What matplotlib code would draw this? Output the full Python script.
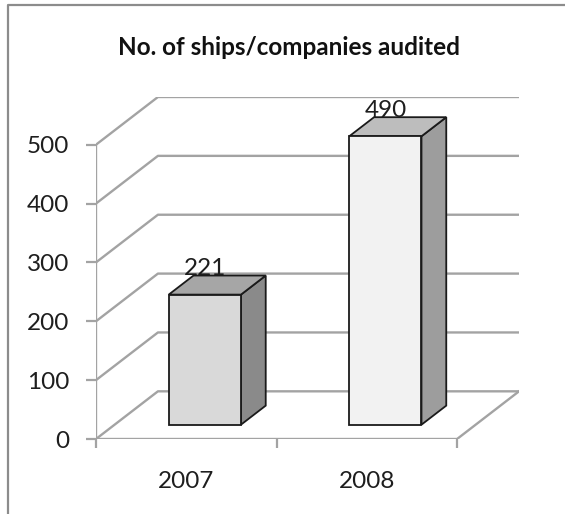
import matplotlib
matplotlib.use("Agg")
import matplotlib.pyplot as plt
from matplotlib.patches import Polygon, Rectangle
from matplotlib.lines import Line2D

# Data
years = ["2007", "2008"]
audited = [221, 490]
y_ticks = [0, 100, 200, 300, 400, 500]
title = "No. of ships/companies audited"

# Styling
front_colors = ["#d9d9d9", "#f2f2f2"]
top_colors = ["#a6a6a6", "#bdbdbd"]
side_colors = ["#8a8a8a", "#9d9d9d"]
grid_color = "#a3a3a3"
text_color = "#1e1e1e"

plt.rcParams["font.family"] = ["Lato", "DejaVu Sans"]

W, H = 565, 514
fig = plt.figure(figsize=(W / 100, H / 100), dpi=100)

# Outer chart frame (top and left edges visible)
fig.add_artist(Line2D([8 / W, 8 / W, 1.01], [-0.01, 1 - 5 / H, 1 - 5 / H],
                      transform=fig.transFigure, color="#8c8c8c", lw=1.6))

fig.text(289 / W, 1 - 55 / H, title, ha="center", va="baseline",
         fontsize=17.5, fontweight="bold", color="#111111")

# Oblique depth offset of the back wall, in data units
DX = 0.343
DY = 81.0
ymax = max(y_ticks)

left, bottom = 96 / W, (H - 439) / H
width, height = (519 - 96) / W, (439 - 97) / H
ax = fig.add_axes([left, bottom, width, height])
ax.set_xlim(-0.5, len(years) - 0.5 + DX)
ax.set_ylim(0, ymax + DY)
for s in ax.spines.values():
    s.set_visible(False)
ax.patch.set_alpha(0)

x_left = -0.5
x_right = len(years) - 0.5

# Back wall gridlines and side wall lines
for v in y_ticks:
    ax.plot([x_left, x_left + DX, x_right + DX], [v, v + DY, v + DY],
            color=grid_color, lw=1.7, solid_capstyle="butt", zorder=1)
# Floor front and right edges
ax.plot([x_left, x_right, x_right + DX], [0, 0, DY],
        color=grid_color, lw=1.7, zorder=1)
# Vertical axis line
ax.plot([x_left, x_left], [0, ymax], color=grid_color, lw=1.7, zorder=1)

# Ticks
ax.set_yticks(y_ticks)
ax.set_yticklabels([str(t) for t in y_ticks])
ax.tick_params(axis="y", length=7.2, width=1.6, color=grid_color, pad=12,
               labelsize=17.5, labelcolor=text_color)
ax.set_xticks([x_left + k for k in range(len(years) + 1)])
ax.set_xticklabels([])
ax.tick_params(axis="x", which="major", length=6.5, width=1.6, color=grid_color)
ax.set_xticks(range(len(years)), minor=True)
ax.set_xticklabels(years, minor=True)
ax.tick_params(axis="x", which="minor", length=0, pad=23, labelsize=17.5,
               labelcolor=text_color)

# 3D-looking bars
bar_w = 0.40
z0, z1 = 0.30, 0.70
dz = z1 - z0
edge = "#1a1a1a"
for i, v in enumerate(audited):
    x0 = i - bar_w / 2 + z0 * DX
    y0 = z0 * DY
    ddx, ddy = dz * DX, dz * DY
    side = Polygon([(x0 + bar_w, y0), (x0 + bar_w + ddx, y0 + ddy),
                    (x0 + bar_w + ddx, y0 + v + ddy), (x0 + bar_w, y0 + v)],
                   closed=True, facecolor=side_colors[i], edgecolor=edge,
                   lw=1.3, joinstyle="miter", zorder=3)
    top = Polygon([(x0, y0 + v), (x0 + bar_w, y0 + v),
                   (x0 + bar_w + ddx, y0 + v + ddy), (x0 + ddx, y0 + v + ddy)],
                  closed=True, facecolor=top_colors[i], edgecolor=edge,
                  lw=1.3, joinstyle="miter", zorder=3)
    front = Rectangle((x0, y0), bar_w, v, facecolor=front_colors[i],
                      edgecolor=edge, lw=1.3, joinstyle="miter", zorder=4)
    for p in (side, top, front):
        ax.add_patch(p)
    ax.text(x0 + bar_w / 2, y0 + v + ddy + 1, str(v), ha="center",
            va="baseline", fontsize=17.5, color=text_color, zorder=5)

fig.savefig("out.png", dpi=100)
